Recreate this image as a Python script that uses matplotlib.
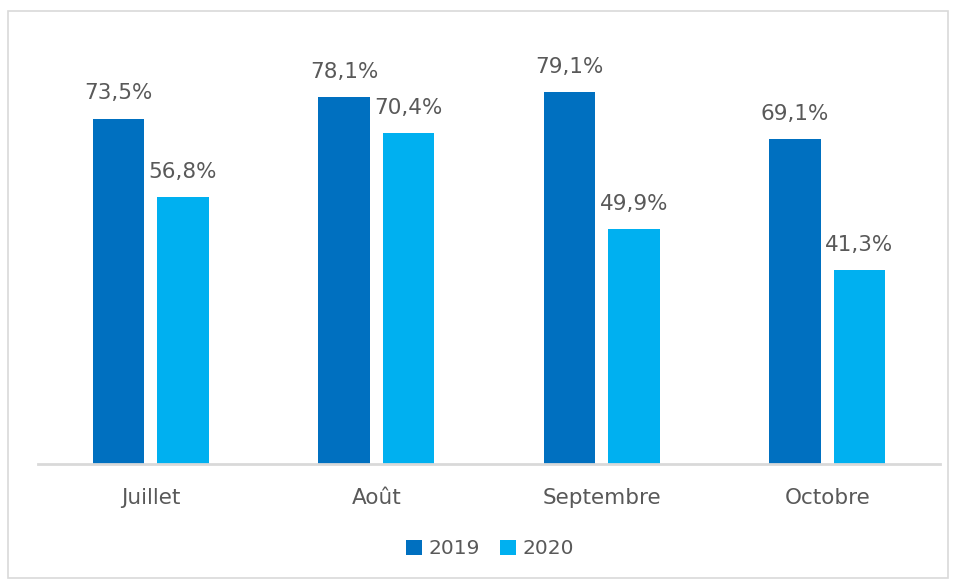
import matplotlib.pyplot as plt
import numpy as np
from matplotlib.patches import Rectangle

months = ['Juillet', 'Août', 'Septembre', 'Octobre']
series_2019 = [73.5, 78.1, 79.1, 69.1]
series_2020 = [56.8, 70.4, 49.9, 41.3]
years = ['2019', '2020']

col_2019 = '#0070C0'
col_2020 = '#00B0F0'
txt = '#595959'

plt.rcParams['font.family'] = ['DejaVu Sans']

fig = plt.figure(figsize=(9.57, 5.81), dpi=100)
ax = fig.add_axes([38 / 957, 1 - 464 / 581, 902 / 957, 423 / 581])

# frame around the whole chart
fig.patches.append(Rectangle((8 / 957, 3 / 581), 940 / 957, 567 / 581,
                             transform=fig.transFigure, fill=False,
                             edgecolor='#D9D9D9', linewidth=1.2))

x = np.arange(len(months))
w = 0.227
off = 0.143
b1 = ax.bar(x - off, series_2019, w, color=col_2019, label=years[0])
b2 = ax.bar(x + off, series_2020, w, color=col_2020, label=years[1])

for bars, vals in ((b1, series_2019), (b2, series_2020)):
    for r, v in zip(bars, vals):
        ax.annotate(f'{v:.1f}%'.replace('.', ','),
                    (r.get_x() + r.get_width() / 2, v),
                    xytext=(0, 11), textcoords='offset points',
                    ha='center', va='bottom', fontsize=15.5, color=txt)

ax.set_xlim(-0.5, len(months) - 0.5)
ax.set_ylim(0, 90)
ax.set_xticks(x)
ax.set_xticklabels(months, fontsize=15.5, color=txt)
ax.tick_params(axis='x', length=0, pad=17)
ax.set_yticks([])
for s in ('top', 'right', 'left'):
    ax.spines[s].set_visible(False)
ax.spines['bottom'].set_color('#D9D9D9')
ax.spines['bottom'].set_linewidth(2)

leg = fig.legend(loc='center', bbox_to_anchor=(490 / 957, 1 - 549 / 581),
                 ncol=2, frameon=False, fontsize=14.5, handlelength=0.8,
                 handleheight=0.8, handletextpad=0.3, columnspacing=1.0)
for t in leg.get_texts():
    t.set_color(txt)

fig.savefig('out.png', dpi=100)
